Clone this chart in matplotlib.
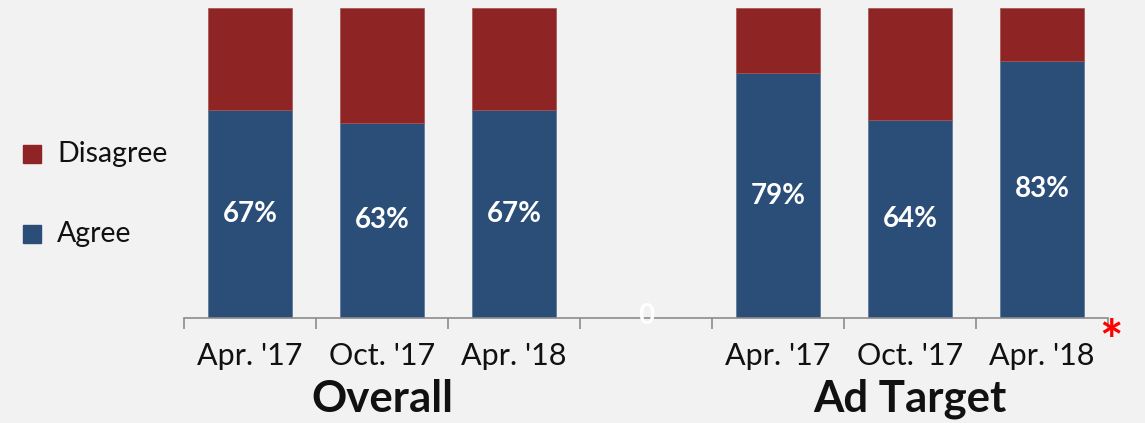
import matplotlib
matplotlib.use("Agg")
import matplotlib.pyplot as plt
from matplotlib.patches import Rectangle

# Survey results per wave; the empty middle slot separates the two groups
periods = ["Apr. '17", "Oct. '17", "Apr. '18", "", "Apr. '17", "Oct. '17", "Apr. '18"]
agree = [67, 63, 67, 0, 79, 64, 83]
disagree = [33, 37, 33, 0, 21, 36, 17]
groups = ["Overall", "Ad Target"]
group_slots = [(0, 2), (4, 6)]

BLUE = "#2a4e78"
RED = "#8e2423"
BG = "#f2f2f2"
FONT = ["Lato", "DejaVu Sans"]

fig = plt.figure(figsize=(11.45, 4.23), dpi=100, facecolor=BG)
ax = fig.add_axes([184 / 1145, 1 - 318 / 423, 924 / 1145, 310 / 423])
ax.set_facecolor(BG)

x = list(range(len(periods)))
width = 0.64
b_agree = ax.bar(x, agree, width, color=BLUE, edgecolor="#5a7597", linewidth=0.5, label="Agree")
b_dis = ax.bar(x, disagree, width, bottom=agree, color=RED, edgecolor="#a85050", linewidth=0.5,
               label="Disagree")

# Value labels in the middle of the agree segment
for xi, v in zip(x, agree):
    txt = f"{v}%" if v > 0 else f"{v}"
    ax.text(xi, v / 2 if v > 0 else 0.7, txt, ha="center", va="center", color="white",
            fontsize=20, fontweight="bold", family=FONT, zorder=5, clip_on=False)

ax.set_xlim(-0.5, len(periods) - 0.5)
ax.set_ylim(0, 100)
ax.set_yticks([])
for side in ("left", "right", "top"):
    ax.spines[side].set_visible(False)
ax.spines["bottom"].set_color("#8c8c8c")
ax.spines["bottom"].set_linewidth(1.2)

# Ticks at the slot boundaries, labels at the slot centers
ax.set_xticks([i - 0.5 for i in range(len(periods) + 1)])
ax.set_xticks(x, minor=True)
ax.set_xticklabels([])
ax.set_xticklabels(periods, minor=True, family=FONT, fontsize=22, color="#111111")
ax.tick_params(axis="x", which="major", length=8, width=1.2, color="#8c8c8c", direction="out")
ax.tick_params(axis="x", which="minor", length=0, pad=17)

for name, (a, b) in zip(groups, group_slots):
    ax.text((a + b) / 2, -0.26, name, transform=ax.get_xaxis_transform(), ha="center",
            va="center", fontsize=31.5, fontweight="bold", family=FONT, color="#111111")

# Significance marker
ax.text(6.52, -0.085, "*", transform=ax.get_xaxis_transform(), ha="center", va="center",
        fontsize=40, fontweight="bold", color="#ff0000", family=FONT)

# Legend
for patch_color, label, ytop in ((RED, "Disagree", 145), (BLUE, "Agree", 225)):
    fig.add_artist(Rectangle((23 / 1145, 1 - (ytop + 18) / 423), 18 / 1145, 18 / 423,
                             transform=fig.transFigure, color=patch_color))
    fig.text(57 / 1145, 1 - (ytop + 9) / 423, label, ha="left", va="center",
             fontsize=20.5, family=FONT, color="#111111")

fig.savefig("out.png", dpi=100, facecolor=BG)
